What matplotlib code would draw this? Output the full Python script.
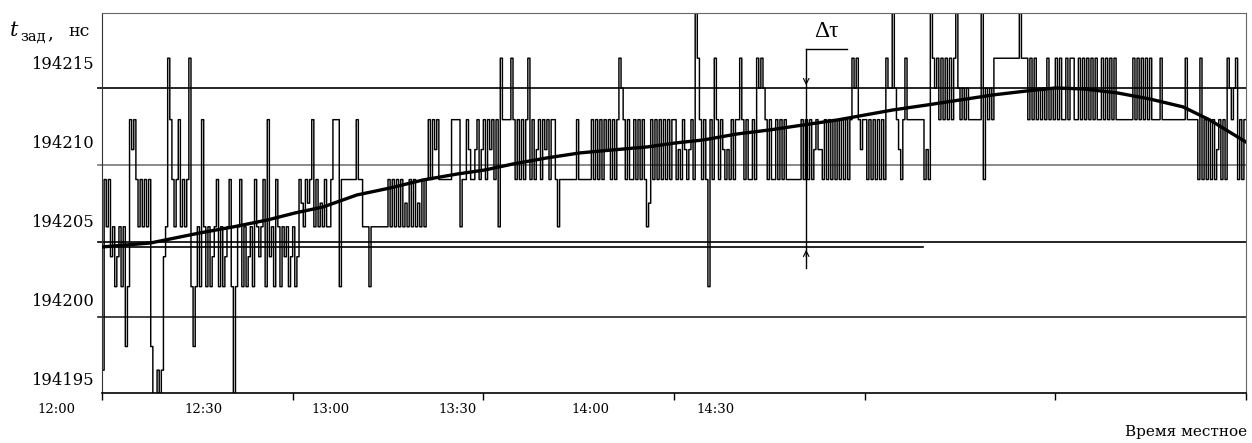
import numpy as np
import matplotlib
matplotlib.use("Agg")
import matplotlib.pyplot as plt

""" Данные """
### уровни задержки (нс), закодированы буквами ###
LEVEL_CODES = "Tabcdefghiklm"
LEVEL_NS = [194219.5, 194215.3, 194213.4, 194211.4, 194209.5, 194207.6, 194206.1,
            194204.6, 194202.7, 194200.8, 194197.0, 194195.5, 194193.0]

### измерения, по одной строке на каждые 30 минут (12:00 ... 15:00) ###
BLOCKS = [
    "legeh" "gihgig" "ki" "cdc" "egegege" "kmmlml" "hg" "ace" "gecgege" "a" "ikigi" "c"
    "gigihgeigihgeim" "igeigihgieghgeichgiegighgih",
    "gih" "efgefecge" "gfgeg" "gec" "cci" "eeeeeeecee" "gggigggggggg" "egegeg"
    "egfgegegfgege" "cecdce" "eeeee" "cccc" "g" "ee" "cdeedced",
    "cecdcec" "g" "a" "cccc" "a" "cecececa" "ecedcecdcecce" "g" "eeeeeeee" "ceeeeee"
    "cecececdcecec" "a" "bceceececece" "g" "f" "cececececec",
    "cedecdedce" "Ta" "cecei" "ce" "a" "cecdedececc" "a" "ceceece" "abab" "ceceececece"
    "eeeeee" "cece" "cedcdde" "cecececececec" "aba" "cdc",
    "cecececece" "abb" "T" "bcdec" "a" "cccccccc" "ede" "T" "ab" "acacacacaTbcbcbc"
    "ccccc" "T" "e" "bcbc" "aaaaaaaaaaaa" "T" "aaa" "cacacbcbcacbc",
    "acaccacaacc" "acacacaca" "cca" "cacacac" "ccccccc" "acacacacac" "ccca"
    "ccccccccccc" "a" "ccccc" "e" "a" "ecececedcece" "abcba" "ecec",
]

### сглаженная кривая ###
CURVE_T = [0, 7.6, 15.4, 20.6, 26.0, 30.4, 34.8, 40.1, 45.3, 50.5, 55.9, 60.3, 64.7,
           70.0, 75.2, 80.4, 85.8, 90.2, 94.6, 99.9, 105.1, 110.3, 115.7, 120.1, 124.5,
           129.8, 135.0, 140.2, 145.5, 150.0, 154.4, 159.7, 164.9, 170.1, 174.3, 180.0]
CURVE_NS = [194203.32, 194203.57, 194204.21, 194204.59, 194205.03, 194205.48, 194205.86,
            194206.62, 194207.06, 194207.57, 194207.95, 194208.21, 194208.59, 194208.97,
            194209.29, 194209.48, 194209.67, 194209.92, 194210.11, 194210.49, 194210.75,
            194211.06, 194211.38, 194211.70, 194212.02, 194212.33, 194212.65, 194212.97,
            194213.22, 194213.41, 194213.35, 194213.10, 194212.71, 194212.21, 194211.38,
            194209.98]

### горизонтальные линии ###
HLINES_NS = [194213.41, 194208.52, 194203.63, 194198.87]
HLINES_COLOR = ["black", "#777777", "black", "#222222"]
LOWER_LINE_NS = 194203.32
LOWER_LINE_END = 129.2

### подписи осей ###
Y_TICKS = [194195, 194200, 194205, 194210, 194215]
TIME_LABELS = ["12:00", "12:30", "13:00", "13:30", "14:00", "14:30"]
TIME_LABEL_POS = [-7.1, 15.9, 35.9, 56.0, 76.8, 96.6]

### Δτ ###
DTAU_T = 110.8
DTAU_TOP = 194215.89
DTAU_BOTTOM = 194201.98
DTAU_HOOK_END = 117.2


""" Построение """
level_map = dict(zip(LEVEL_CODES, LEVEL_NS))

t_all, v_all = [], []
for b, block in enumerate(BLOCKS):
    n = len(block)
    for k, ch in enumerate(block):
        t_all.append(30 * b + 30.0 * k / n)
        v_all.append(level_map[ch])
t_all.append(180.0)
v_all.append(v_all[-1])

plt.rcParams['font.family'] = ['DejaVu Serif']

fig = plt.figure(figsize=(12.52, 4.43), dpi=100)
ax = fig.add_axes([102 / 1252, 1 - 393 / 443, 1144 / 1252, 380 / 443])

ax.set_xlim(0, 180)
ax.set_ylim(194194.05, 194218.17)

# сетка
for y, c in zip(HLINES_NS, HLINES_COLOR):
    ax.plot([-0.7, 180], [y, y], color=c, lw=1.2, clip_on=False, zorder=1)
ax.plot([0, LOWER_LINE_END], [LOWER_LINE_NS, LOWER_LINE_NS], color="black", lw=1.2, zorder=1)

# измерения
ax.plot(t_all, v_all, drawstyle="steps-post", color="black", lw=1.05, zorder=2)

# сглаженная кривая
ax.plot(CURVE_T, CURVE_NS, color="black", lw=2.4, zorder=3)

# Δτ
ax.plot([DTAU_T, DTAU_T], [DTAU_BOTTOM, DTAU_TOP], color="black", lw=1.0, zorder=4)
ax.plot([DTAU_T, DTAU_HOOK_END], [DTAU_TOP, DTAU_TOP], color="black", lw=1.0, zorder=4)
ax.annotate("", xy=(DTAU_T, HLINES_NS[0]), xytext=(DTAU_T, HLINES_NS[0] + 0.8),
            arrowprops=dict(arrowstyle="->", lw=0.8, mutation_scale=10))
ax.annotate("", xy=(DTAU_T, LOWER_LINE_NS), xytext=(DTAU_T, LOWER_LINE_NS - 0.8),
            arrowprops=dict(arrowstyle="->", lw=0.8, mutation_scale=10))
ax.text(114.0, 194217.0, "Δτ", fontsize=17, family="Liberation Serif",
        ha="center", va="center")

# оси
for side in ["top", "right"]:
    ax.spines[side].set_color("#666666")
ax.spines["left"].set_color("#333333")
ax.spines["bottom"].set_color("black")
ax.spines["bottom"].set_linewidth(1.2)

ax.set_yticks(Y_TICKS)
ax.set_yticklabels([str(v) for v in Y_TICKS], fontsize=11.8)
ax.tick_params(axis="y", length=0, pad=6)

ax.set_xticks([0, 30, 60, 90, 120, 150, 180])
ax.set_xticklabels([])
ax.tick_params(axis="x", direction="out", length=5, width=1)

for lab, pos in zip(TIME_LABELS, TIME_LABEL_POS):
    ax.text(pos, 194193.0, lab, fontsize=9.5, ha="center", va="center", clip_on=False)

fig.text(1247 / 1252, 1 - 432 / 443, "Время местное", fontsize=11, ha="right", va="center")

# подпись оси Y
fig.text(10 / 1252, 1 - 31 / 443, "t", fontsize=15, style="italic", ha="left", va="center")
fig.text(20 / 1252, 1 - 37 / 443, "зад", fontsize=10.5, ha="left", va="center")
fig.text(47 / 1252, 1 - 33 / 443, ",", fontsize=13, ha="left", va="center")
fig.text(68 / 1252, 1 - 32 / 443, "нс", fontsize=12.5, ha="left", va="center")

fig.savefig("out.png", dpi=100)
